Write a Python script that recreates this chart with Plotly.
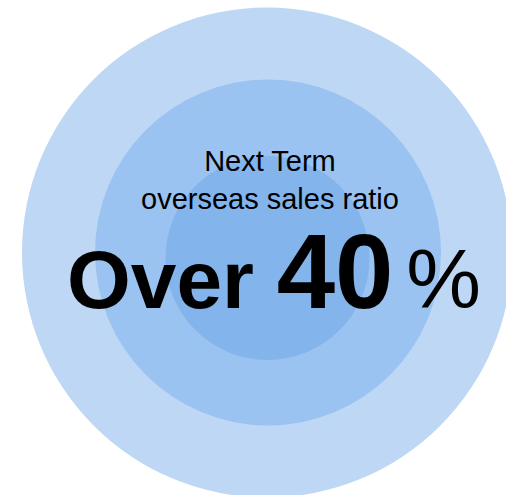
import plotly.graph_objects as go

# Concentric rings (outer -> inner), in pixel-like data units
ring_names = ["outer", "middle", "inner"]
ring_cx = [267, 268, 267.5]
ring_cy = [252.5, 252.5, 258]
ring_r = [245, 173, 102]
ring_colors = ["#BDD7F4", "#9AC3F1", "#83B4EC"]

headline_lines = ["Next Term", "overseas sales ratio"]
ratio_prefix = "Over"
ratio_value = 40
ratio_unit = "%"

W, H = 506, 495
fig = go.Figure()

for name, cx, cy, r, col in zip(ring_names, ring_cx, ring_cy, ring_r, ring_colors):
    fig.add_shape(
        type="circle", xref="x", yref="y",
        x0=cx - r, x1=cx + r, y0=cy - r, y1=cy + r,
        fillcolor=col, line=dict(width=0), layer="below", name=name,
    )

font_family = "Arial, 'Liberation Sans', sans-serif"

fig.add_annotation(
    x=270, y=180, xref="x", yref="y",
    text="<br>".join(headline_lines),
    showarrow=False, xanchor="center", yanchor="middle",
    font=dict(family=font_family, size=29, color="#000000"),
    align="center",
)

fig.add_annotation(
    x=273.5, y=271, xref="x", yref="y",
    text=(f"<b>{ratio_prefix} </b>"
          f"<b><span style='font-size:105px'>{ratio_value}</span></b>"
          f"<span style='font-size:46px'> </span>"
          f"<span style='font-size:84px'>{ratio_unit}</span>"),
    showarrow=False, xanchor="center", yanchor="middle",
    font=dict(family=font_family, size=82, color="#000000"),
)

fig.update_xaxes(range=[0, W], visible=False, fixedrange=True)
fig.update_yaxes(range=[H, 0], visible=False, fixedrange=True)
fig.update_layout(
    width=W, height=H,
    margin=dict(l=0, r=0, t=0, b=0),
    paper_bgcolor="white", plot_bgcolor="white",
    showlegend=False,
)

fig.write_html("out.html")
